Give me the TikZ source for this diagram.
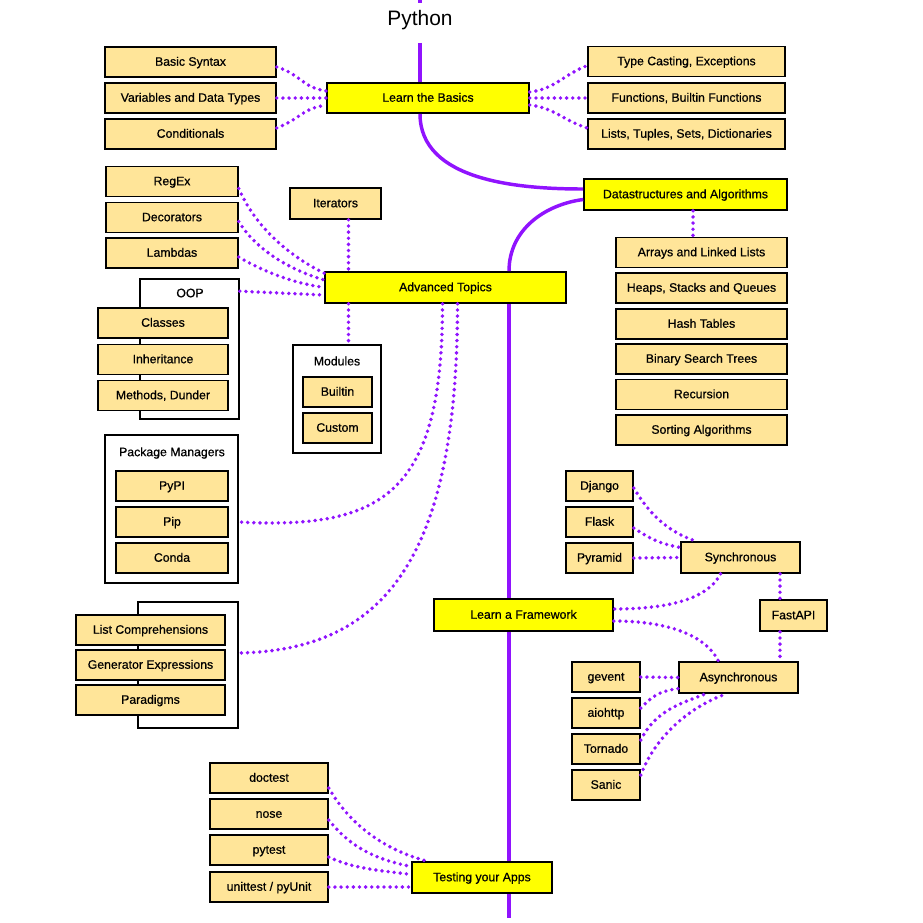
\documentclass[tikz,border=0pt]{standalone}
\usepackage{fontspec}
\setmainfont{Liberation Sans}
\newfontfamily\boxfamily{Liberation Sans}[FakeBold=0.6]
\usetikzlibrary{calc}
\definecolor{spinepurple}{HTML}{9013FE}
\definecolor{topicyellow}{HTML}{FFFF00}
\definecolor{itemtan}{HTML}{FFE599}
\newcommand\boxfont{\boxfamily\fontsize{9.2}{11}\selectfont}
\tikzstyle{basebox}=[draw, line width=1.2pt, inner sep=0pt, minimum height=22.5pt, text height=6.8pt, text depth=1.2pt, font=\boxfont]
\tikzstyle{topicbox}=[basebox, fill=topicyellow]
\tikzstyle{itembox}=[basebox, fill=itemtan]
\tikzstyle{groupbox}=[draw, line width=1.2pt, fill=white, inner sep=0pt]
\tikzstyle{spine}=[draw=spinepurple, line width=2.6pt]
\tikzstyle{link}=[draw=spinepurple, line width=2.9pt, line cap=round, dash pattern=on 0pt off 4.6pt]

\begin{document}
\begin{tikzpicture}[x=0.75pt, y=-0.75pt]
        \useasboundingbox (0,0) rectangle (923,922);
        \coordinate (spinetop) at (420,0);
        \coordinate (spinex) at (509,0);
        \coordinate (spinebot) at (509,918);
        \coordinate (advx) at (348.5,0);
        \coordinate (dsx) at (693,0);
        \coordinate (fastx) at (780,0);

        \node[anchor=base, inner sep=0pt, font=\fontsize{15.7}{18}\selectfont] (title) at (420,25) {Python};

        % basics
        \node[topicbox, minimum width=151.5pt] (basics) at (428,98) {Learn the Basics};
        \node[itembox, minimum width=128.25pt] (syntax) at (190.5,62) {Basic Syntax};
        \node[itembox, minimum width=128.25pt] (vars) at (190.5,98) {Variables and Data Types};
        \node[itembox, minimum width=128.25pt] (cond) at (190.5,134) {Conditionals};
        \node[itembox, minimum width=147.75pt] (casting) at (686.5,61.5) {Type Casting, Exceptions};
        \node[itembox, minimum width=147.75pt] (funcs) at (686.5,98) {Functions, Builtin Functions};
        \node[itembox, minimum width=147.75pt] (lists) at (686.5,134) {Lists, Tuples, Sets, Dictionaries};

        % data structures
        \node[topicbox, minimum width=152.25pt, minimum height=23.25pt] (ds) at (685.5,194.5) {Datastructures and Algorithms};
        \node[itembox, minimum width=128.25pt] (arrays) at (701.5,252.5) {Arrays and Linked Lists};
        \node[itembox, minimum width=128.25pt] (heaps) at (701.5,288) {Heaps, Stacks and Queues};
        \node[itembox, minimum width=128.25pt] (hash) at (701.5,324) {Hash Tables};
        \node[itembox, minimum width=128.25pt] (bst) at (701.5,359) {Binary Search Trees};
        \node[itembox, minimum width=128.25pt] (recursion) at (701.5,394.5) {Recursion};
        \node[itembox, minimum width=128.25pt] (sorting) at (701.5,430) {Sorting Algorithms};

        % advanced
        \node[topicbox, minimum width=180.75pt, minimum height=23.25pt] (adv) at (445.5,287.5) {Advanced Topics};
        \node[itembox, minimum width=99pt] (regex) at (172,181.5) {RegEx};
        \node[itembox, minimum width=99pt] (dec) at (172,217.5) {Decorators};
        \node[itembox, minimum width=99pt] (lambdas) at (172,253) {Lambdas};
        \node[groupbox, minimum width=74.25pt, minimum height=105pt] (oop) at (189.5,349) {};
        \node[font=\boxfont] (ooptitle) at (190,293) {OOP};
        \node[itembox, minimum width=97.5pt] (classes) at (163,323) {Classes};
        \node[itembox, minimum width=97.5pt] (inherit) at (163,359.5) {Inheritance};
        \node[itembox, minimum width=97.5pt] (methods) at (163,395.5) {Methods, Dunder};
        \node[itembox, minimum width=68.25pt, minimum height=23.25pt] (iter) at (335.5,203.5) {Iterators};
        \node[groupbox, minimum width=66pt, minimum height=81pt] (mods) at (337,399) {};
        \node[font=\boxfont] (modstitle) at (337,361) {Modules};
        \node[itembox, minimum width=51.75pt] (builtin) at (337.5,392) {Builtin};
        \node[itembox, minimum width=51.75pt] (custom) at (337.5,428) {Custom};
        \node[groupbox, minimum width=99.75pt, minimum height=111pt] (pkg) at (171.5,509) {};
        \node[font=\boxfont] (pkgtitle) at (172,453) {Package Managers};
        \node[itembox, minimum width=84pt] (pypi) at (172,486) {PyPI};
        \node[itembox, minimum width=84pt] (pip) at (172,522) {Pip};
        \node[itembox, minimum width=84pt] (conda) at (172,558) {Conda};
        \node[groupbox, minimum width=75pt, minimum height=94.5pt] (para) at (188,665) {};
        \node[itembox, minimum width=111.75pt] (listcomp) at (150.5,630) {List Comprehensions};
        \node[itembox, minimum width=111.75pt] (genexp) at (150.5,665) {Generator Expressions};
        \node[itembox, minimum width=111.75pt] (paradigms) at (150.5,700) {Paradigms};

        % framework
        \node[topicbox, minimum width=134.25pt, minimum height=24pt] (frame) at (523.5,615) {Learn a Framework};
        \node[itembox, minimum width=50.25pt] (django) at (599.5,486) {Django};
        \node[itembox, minimum width=50.25pt] (flask) at (599.5,522) {Flask};
        \node[itembox, minimum width=50.25pt] (pyramid) at (599.5,558) {Pyramid};
        \node[itembox, minimum width=89.25pt, minimum height=23.25pt] (sync) at (740.5,557.5) {Synchronous};
        \node[itembox, minimum width=50.25pt, minimum height=23.25pt] (fast) at (793.5,615.5) {FastAPI};
        \node[itembox, minimum width=89.25pt, minimum height=23.25pt] (async) at (738.5,677.5) {Asynchronous};
        \node[itembox, minimum width=51pt] (gevent) at (606,677) {gevent};
        \node[itembox, minimum width=51pt] (aiohttp) at (606,713) {aiohttp};
        \node[itembox, minimum width=51pt] (tornado) at (606,749) {Tornado};
        \node[itembox, minimum width=51pt] (sanic) at (606,785) {Sanic};

        % testing
        \node[topicbox, minimum width=105pt, minimum height=23.25pt] (testing) at (482,877.5) {Testing your Apps};
        \node[itembox, minimum width=88.5pt] (doctest) at (269,778) {doctest};
        \node[itembox, minimum width=88.5pt] (nose) at (269,814) {nose};
        \node[itembox, minimum width=88.5pt] (pytest) at (269,850) {pytest};
        \node[itembox, minimum width=88.5pt] (unittest) at (269,887) {unittest / pyUnit};

        % main line
        \draw[spine] (spinetop) -- ([yshift=5pt]title.north);
        \draw[spine] ([yshift=-10pt]title.south) -- (basics.north -| spinetop);
        \draw[spine] (basics.south -| spinetop) .. controls +(0,67) and +(-65,0) .. ($(ds.west)+(0,-5.5)$);
        \draw[spine] ($(ds.west)+(0,5)$) .. controls +(-38,5) and +(0,-42) .. (adv.north -| spinex);
        \draw[spine] (adv.south -| spinex) -- (frame.north -| spinex);
        \draw[spine] (frame.south -| spinex) -- (testing.north -| spinex);
        \draw[spine] (testing.south -| spinex) -- (spinebot);

        % basics links
        \draw[link] ($(syntax.east)+(0,5)$) .. controls +(25,8) and +(-25,-4) .. ($(basics.west)+(0,-7)$);
        \draw[link] (vars.east) -- (basics.west);
        \draw[link] ($(cond.east)+(0,-6)$) .. controls +(25,-10) and +(-25,4) .. ($(basics.west)+(0,7)$);
        \draw[link] ($(basics.east)+(0,-6)$) .. controls +(25,-3) and +(-25,10) .. ($(casting.west)+(0,4)$);
        \draw[link] (basics.east) -- (funcs.west);
        \draw[link] ($(basics.east)+(0,7)$) .. controls +(25,3) and +(-25,-8) .. ($(lists.west)+(0,-6)$);
        \draw[link] (ds.south -| dsx) -- (arrays.north -| dsx);

        % advanced links
        \draw[link] ($(regex.east)+(0,7)$) .. controls +(15,35) and +(-40,-20) .. ($(adv.north west)+(0,2)$);
        \draw[link] ($(dec.east)+(0,4)$) .. controls +(15,25) and +(-40,-12) .. ($(adv.west)+(0,-7.5)$);
        \draw[link] ($(lambdas.east)+(0,4)$) .. controls +(20,12) and +(-35,-5) .. (adv.west);
        \draw[link] ($(oop.north east)+(0,13)$) -- ($(adv.west)+(0,7.5)$);
        \draw[link] (iter.south -| advx) -- (adv.north -| advx);
        \draw[link] (adv.south -| advx) -- (mods.north -| advx);
        \draw[link] ($(adv.south)+(-3,0)$) .. controls +(0,187) and +(147,8) .. (pkg.east |- pip);
        \draw[link] ($(adv.south)+(12,0)$) .. controls +(0,260) and +(142,-3) .. ($(para.east)+(0,-12)$);

        % framework links
        \draw[link] ($(django.east)+(0,2)$) .. controls +(15,25) and +(-30,-10) .. ($(sync.north west)+(16,0)$);
        \draw[link] ($(flask.east)+(0,6)$) .. controls +(18,12) and +(-20,-4) .. ($(sync.west)+(0,-10)$);
        \draw[link] (pyramid.east) -- (sync.west);
        \draw[link] ($(sync.south)+(-20,0)$) .. controls +(-15,30) and +(40,0) .. ($(frame.east)+(0,-6)$);
        \draw[link] ($(frame.east)+(0,6)$) .. controls +(45,0) and +(-15,-30) .. ($(async.north)+(-20,0)$);
        \draw[link] (sync.south -| fastx) -- (fast.north -| fastx);
        \draw[link] (fast.south -| fastx) -- (async.north -| fastx);
        \draw[link] (gevent.east) -- (async.west);
        \draw[link] ($(aiohttp.east)+(0,-5)$) .. controls +(12,-12) and +(-20,3) .. ($(async.west)+(0,11)$);
        \draw[link] ($(tornado.east)+(0,-9)$) .. controls +(15,-30) and +(-25,10) .. ($(async.south)+(-33,0)$);
        \draw[link] ($(sanic.east)+(0,-10)$) .. controls +(15,-40) and +(-35,12) .. ($(async.south)+(-12,0)$);

        % testing links
        \draw[link] ($(doctest.east)+(0,10)$) .. controls +(20,35) and +(-45,-12) .. ($(testing.north west)+(16,0)$);
        \draw[link] ($(nose.east)+(0,6)$) .. controls +(20,25) and +(-40,-8) .. ($(testing.west)+(0,-11)$);
        \draw[link] ($(pytest.east)+(0,7)$) .. controls +(25,12) and +(-30,-4) .. ($(testing.west)+(0,-3)$);
        \draw[link] (unittest.east) -- (testing.west |- unittest.east);
\end{tikzpicture}
\end{document}
